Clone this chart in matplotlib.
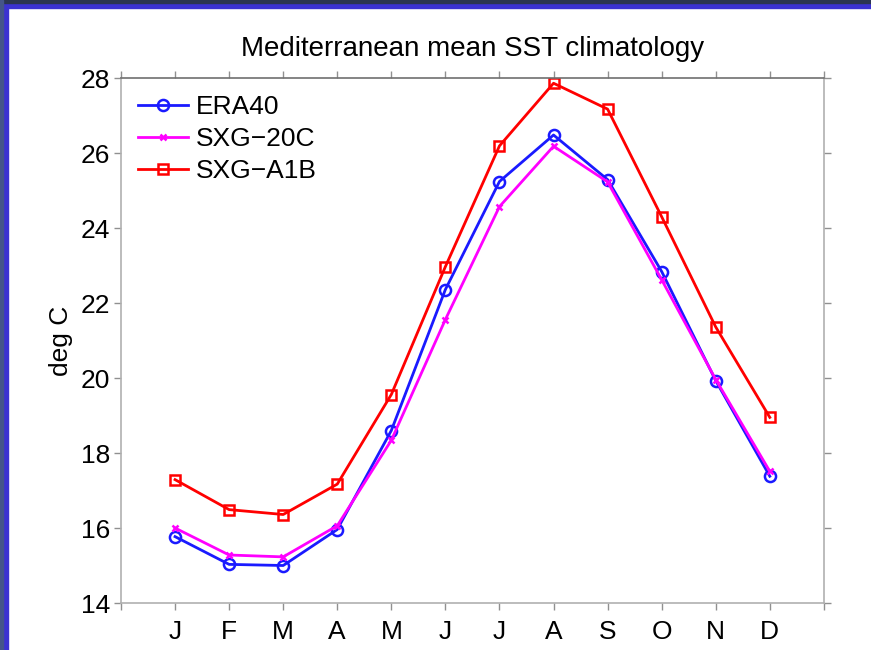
import matplotlib
matplotlib.use('agg')
import matplotlib.pyplot as plt
from matplotlib.patches import Rectangle

plt.rcParams['font.family'] = ['Liberation Sans', 'DejaVu Sans']

months = ['J', 'F', 'M', 'A', 'M', 'J', 'J', 'A', 'S', 'O', 'N', 'D']
era40 = [15.77, 15.03, 15.00, 15.96, 18.60, 22.36, 25.24, 26.48, 25.29, 22.84, 19.93, 17.38]
sxg_20c = [16.00, 15.28, 15.23, 16.06, 18.34, 21.56, 24.57, 26.18, 25.23, 22.62, 19.96, 17.51]
sxg_a1b = [17.29, 16.49, 16.36, 17.17, 19.56, 22.97, 26.19, 27.86, 27.17, 24.30, 21.36, 18.95]

fig = plt.figure(figsize=(8.71, 6.5), dpi=100)
fig.patch.set_facecolor('white')

# slide-style border, top and left
fig.patches.append(Rectangle((0, 1 - 8 / 650), 1, 8 / 650, transform=fig.transFigure,
                             color='#3b32d2', zorder=-1))
fig.patches.append(Rectangle((0, 0), 8 / 871, 1, transform=fig.transFigure,
                             color='#3b32d2', zorder=-1))
fig.patches.append(Rectangle((0, 1 - 3 / 650), 1, 3 / 650, transform=fig.transFigure,
                             color='#2b3552', zorder=-1))
fig.patches.append(Rectangle((0, 0), 3 / 871, 1, transform=fig.transFigure,
                             color='#44558a', zorder=-1))

ax = fig.add_axes([0.1389, 0.0723, 0.807, 0.8077])

x = list(range(1, 13))
ax.plot(x, era40, color='#1a1aff', lw=2.0, marker='o', ms=8, mfc='none', mew=1.8, label='ERA40')
ax.plot(x, sxg_20c, color='#ff00ff', lw=2.0, marker='x', ms=5, mew=1.8, label='SXG\u221220C')
ax.plot(x, sxg_a1b, color='#ff0000', lw=2.0, marker='s', ms=7, mfc='none', mew=1.8, label='SXG\u2212A1B')

ax.set_xlim(0, 13)
ax.set_ylim(14, 28)
ax.set_xticks(range(0, 14))
ax.set_xticklabels([''] + months + [''])
ax.set_yticks(range(14, 29, 2))

for side in ['left', 'right', 'bottom']:
    ax.spines[side].set_color('#b0b0b0')
ax.spines['top'].set_color('#707070')
for sp in ax.spines.values():
    sp.set_linewidth(1.2)

ax.tick_params(axis='both', direction='out', length=5, width=1, color='#909090',
               labelsize=19, top=True, right=True)
ax.tick_params(axis='y', pad=3)
ax.tick_params(axis='x', pad=7)

ax.set_ylabel('deg C', fontsize=19, labelpad=5)
ax.set_title('Mediterranean mean SST climatology', fontsize=20, pad=16)

ax.legend(loc='upper left', frameon=False, fontsize=19, handlelength=1.9,
          handletextpad=0.3, labelspacing=0.3, borderaxespad=0.25)

fig.savefig('out.png', dpi=100)
